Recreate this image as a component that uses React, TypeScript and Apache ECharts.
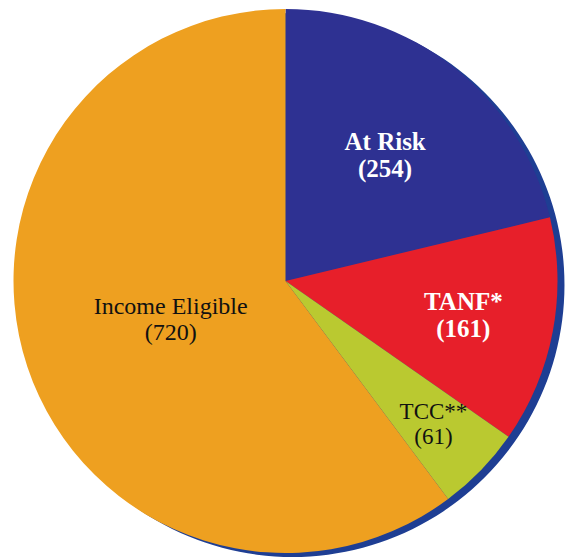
import React, { useEffect, useRef } from "react";
import * as echarts from "echarts";

const categories = ["At Risk", "TANF*", "TCC**", "Income Eligible"];
const values = [254, 161, 61, 720];
const colors = ["#2e3192", "#e71f2a", "#bac930", "#eea020"];
const labelColors = ["#ffffff", "#ffffff", "#111111", "#111111"];
const labelBold = [true, true, false, false];
const labelSizes = [25, 25, 23, 24];
// desired distance of each label's centre from the pie centre (px)
const labelRadius = [161, 181, 206, 121];

const CX = 285.5;
const CY = 281;
const R = 272;
const FONT = "Liberation Serif";

export default function App() {
  const ref = useRef<HTMLDivElement>(null);
  useEffect(() => {
    document.body.style.margin = "0";
    if (!ref.current) return;
    const chart = echarts.init(ref.current, undefined, { renderer: "svg" });
    const total = values.reduce((a, b) => a + b, 0);
    chart.setOption({
      animation: false,
      backgroundColor: "#ffffff",
      textStyle: { fontFamily: FONT },
      series: [
        {
          type: "pie",
          silent: true,
          center: [CX + 7, CY + 4],
          radius: R,
          z: 1,
          label: { show: false },
          labelLine: { show: false },
          data: [{ value: total, name: "shadow", itemStyle: { color: "#1e3e93" } }],
        },
        {
          type: "pie",
          center: [CX, CY],
          radius: R,
          startAngle: 90,
          clockwise: true,
          z: 2,
          labelLine: { show: false },
          label: {
            show: true,
            position: "inside",
            formatter: "{b}\n({c})",
            fontFamily: FONT,
          },
          data: categories.map((c, i) => ({
            name: c,
            value: values[i],
            itemStyle: { color: colors[i], borderWidth: 0 },
            label: {
              color: labelColors[i],
              fontFamily: FONT,
              fontWeight: labelBold[i] ? "bold" : "normal",
              fontSize: labelSizes[i],
              lineHeight: labelSizes[i] + 2,
              align: "center",
            },
          })),
          labelLayout: (params: any) => {
            const i = params.dataIndex;
            const r = params.labelRect;
            const lx = r.x + r.width / 2;
            const ly = r.y + r.height / 2;
            const vx = lx - CX;
            const vy = ly - CY;
            const cur = Math.sqrt(vx * vx + vy * vy) || 1;
            const f = labelRadius[i] / cur;
            return { dx: vx * (f - 1), dy: vy * (f - 1) };
          },
        },
      ],
    });
    return () => chart.dispose();
  }, []);
  return <div ref={ref} style={{ width: 571, height: 558 }} />;
}
